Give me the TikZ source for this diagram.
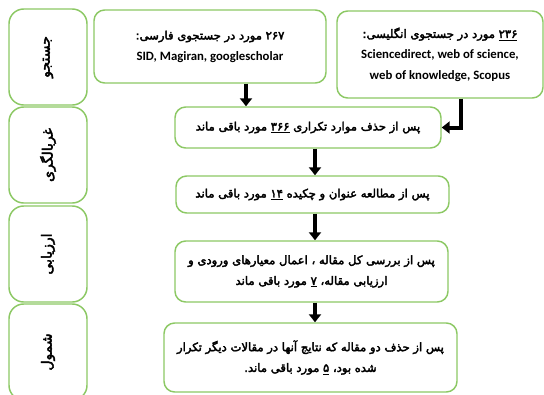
\documentclass[tikz,border=0pt]{standalone}
\usepackage{fontspec}
\setmainfont{Carlito}[Scale=1.1]
\newfontfamily\fafont[Script=Arabic,FakeBold=3,BoldFont={DejaVu Sans},BoldFeatures={FakeBold=3}]{DejaVu Sans}
\TeXXeTstate=1
\usetikzlibrary{arrows.meta}
\definecolor{boxgreen}{RGB}{140,200,100}
\newcommand{\fatext}[1]{{\fafont\beginR #1\endR}}

\begin{document}
\begin{tikzpicture}[x=0.75pt,y=-0.75pt,
    box/.style={draw=boxgreen,line width=1.1pt,rounded corners=8pt,fill=white,
      align=center,inner sep=2pt,font=\fontsize{8.7}{15.5}\selectfont\bfseries},
    stage/.style={box,rotate=90,minimum width=72pt,minimum height=58.5pt,
      rounded corners=11pt,font=\fontsize{10.5}{12}\selectfont\bfseries},
    arr/.style={line width=3pt,-{Triangle[width=9pt,length=6pt]}}]
  \useasboundingbox (0,0) rectangle (544,394);
  % ---- the four stages on the left ----
  \foreach \n/\y/\t in {s1/57/جستجو, s2/155/غربالگری, s3/254/ارزیابی, s4/352/شمول}
    \node[stage] (\n) at (48,\y) {\fatext{\t}};
  % ---- the two searches ----
  \node[box,minimum width=174pt,minimum height=54.75pt] (fa) at (210,46.5)
    {\fatext{۲۶۷ مورد در جستجوی فارسی:}\\SID, Magiran, googlescholar};
  \node[box,minimum width=154.5pt,minimum height=65.25pt] (en) at (440,54.5)
    {\fatext{\underline{۲۳۶} مورد در جستجوی انگلیسی:}\\Sciencedirect, web of science,\\web of knowledge, Scopus};
  % ---- what was left after each step ----
  \node[box,minimum width=199.5pt,minimum height=30.75pt] (dup) at (308,127.5)
    {\fatext{پس از حذف موارد تکراری \underline{۳۶۶} مورد باقی ماند}};
  \node[box,minimum width=204.75pt,minimum height=27.75pt] (abs) at (312.5,194.5)
    {\fatext{پس از مطالعه عنوان و چکیده \underline{۱۴} مورد باقی ماند}};
  \node[box,minimum width=204.75pt,minimum height=45.75pt] (full) at (311.5,271.5)
    {\fatext{پس از بررسی کل مقاله ، اعمال معیارهای ورودی و}\\\fatext{ارزیابی مقاله، \underline{۷} مورد باقی ماند}};
  \node[box,minimum width=219.75pt,minimum height=51.75pt] (incl) at (310.5,357.5)
    {\fatext{پس از حذف دو مقاله که نتایج آنها در مقالات دیگر تکرار}\\\fatext{شده بود، \underline{۵} مورد باقی ماند.}};
  % ---- arrows ----
  \coordinate (c1) at (246,0);
  \coordinate (c2) at (461,0);
  \coordinate (c3) at (315,0);
  \draw[arr] (c1 |- fa.south) -- (c1 |- dup.north);
  \draw[arr] (c2 |- en.south) |- (dup.east);
  \draw[arr] (c3 |- dup.south) -- (c3 |- abs.north);
  \draw[arr] (c3 |- abs.south) -- (c3 |- full.north);
  \draw[arr] (c3 |- full.south) -- (c3 |- incl.north);
\end{tikzpicture}
\end{document}
